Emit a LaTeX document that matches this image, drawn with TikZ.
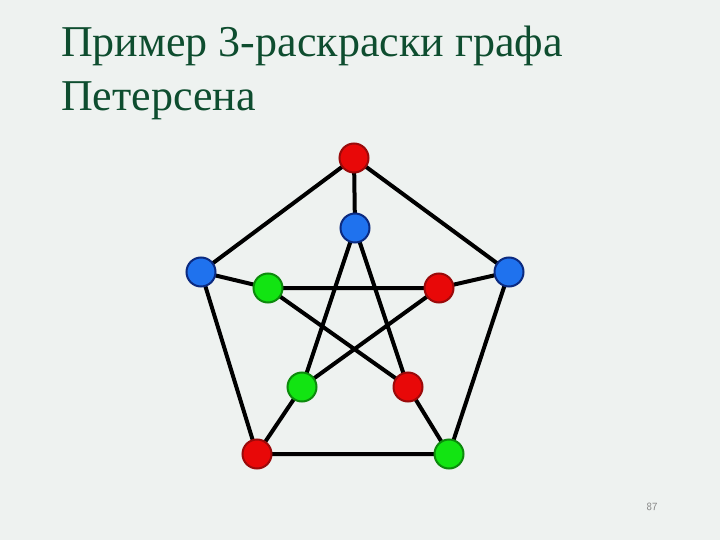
\documentclass[tikz,border=0pt]{standalone}
\usepackage{fontspec}
\setmainfont{Liberation Serif}
\definecolor{bg}{HTML}{EEF2F0}
\definecolor{titlegreen}{HTML}{0E4D2F}
\definecolor{rfill}{HTML}{E80808}
\definecolor{rdraw}{HTML}{9A0A0A}
\definecolor{bfill}{HTML}{1F72EE}
\definecolor{bdraw}{HTML}{0B2A80}
\definecolor{gfill}{HTML}{12E412}
\definecolor{gdraw}{HTML}{0C8A0C}
\begin{document}
\begin{tikzpicture}[x=1pt,y=-1pt,
  vtx/.style={circle,minimum size=29pt,inner sep=0pt,line width=2pt},
  rv/.style={vtx,fill=rfill,draw=rdraw},
  bv/.style={vtx,fill=bfill,draw=bdraw},
  gv/.style={vtx,fill=gfill,draw=gdraw},
  edge/.style={line width=4pt,black},
  ttl/.style={anchor=base west,text=titlegreen,font=\fontsize{44}{52}\selectfont,inner sep=0pt}]
\fill[bg] (0,0) rectangle (720,540);
\useasboundingbox (0,0) rectangle (720,540);
\node[ttl] (t1) at (61,57) {Пример 3-раскраски графа};
\node[ttl] (t2) at (61,111) {Петерсена};
\node[text=gray,font=\sffamily\fontsize{11}{13}\selectfont] (pn) at (652,507) {87};
% vertex positions
\coordinate (o1) at (354,158);
\coordinate (o2) at (201,272);
\coordinate (o3) at (509,272);
\coordinate (o4) at (257,454);
\coordinate (o5) at (449,454);
\coordinate (i1) at (355,228);
\coordinate (i2) at (268,288);
\coordinate (i3) at (439,288);
\coordinate (i4) at (302,387);
\coordinate (i5) at (408,387);
% edges
\draw[edge] (o1)--(o2) (o1)--(o3) (o2)--(o4) (o3)--(o5) (o4)--(o5);
\draw[edge] (o1)--(i1) (o2)--(i2) (o3)--(i3) (o4)--(i4) (o5)--(i5);
\draw[edge] (i1)--(i4) (i1)--(i5) (i2)--(i3) (i2)--(i5) (i3)--(i4);
% vertices
\node[rv] (n1) at (o1) {};
\node[bv] (n2) at (o2) {};
\node[bv] (n3) at (o3) {};
\node[rv] (n4) at (o4) {};
\node[gv] (n5) at (o5) {};
\node[bv] (m1) at (i1) {};
\node[gv] (m2) at (i2) {};
\node[rv] (m3) at (i3) {};
\node[gv] (m4) at (i4) {};
\node[rv] (m5) at (i5) {};
\end{tikzpicture}
\end{document}
